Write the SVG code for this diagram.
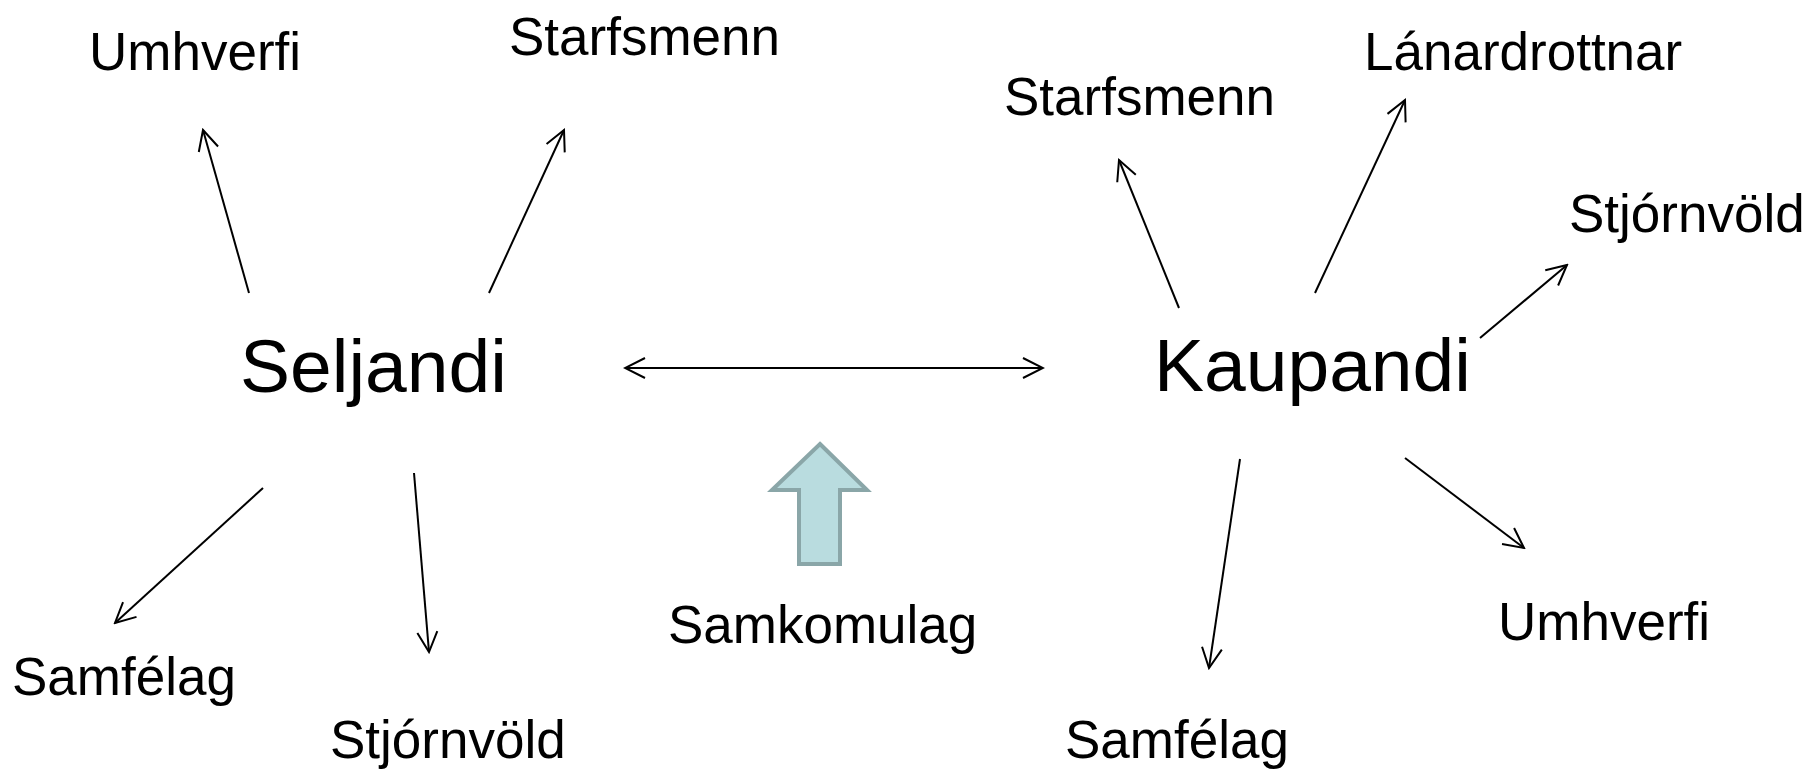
<svg xmlns="http://www.w3.org/2000/svg" width="1811" height="770" viewBox="0 0 1811 770">
<style>
text{font-family:"Liberation Sans",Arial,sans-serif;fill:#000}
.s{font-size:53px}
.b{font-size:75px}
.c{stroke:#000;stroke-width:2;fill:none}
</style>
<defs>
<marker id="ah" markerUnits="userSpaceOnUse" viewBox="-22 -12 24 24" refX="0" refY="0" markerWidth="24" markerHeight="24" orient="auto-start-reverse">
<path d="M-20,-10 L0,0 L-20,10" fill="none" stroke="#000" stroke-width="2"/>
</marker>
</defs>
<rect width="1811" height="770" fill="#fff"/>
<g id="connectors">
<line class="c" x1="249" y1="293" x2="203" y2="130" marker-end="url(#ah)"/>
<line class="c" x1="489" y1="293" x2="564" y2="130" marker-end="url(#ah)"/>
<line class="c" x1="263" y1="488" x2="115" y2="623" marker-end="url(#ah)"/>
<line class="c" x1="414" y1="473" x2="429" y2="652" marker-end="url(#ah)"/>
<line class="c" x1="625" y1="368" x2="1043" y2="368" marker-start="url(#ah)" marker-end="url(#ah)"/>
<line class="c" x1="1179" y1="308" x2="1119" y2="160" marker-end="url(#ah)"/>
<line class="c" x1="1315" y1="293" x2="1405" y2="100" marker-end="url(#ah)"/>
<line class="c" x1="1480" y1="338" x2="1567" y2="265" marker-end="url(#ah)"/>
<line class="c" x1="1240" y1="459" x2="1209" y2="668" marker-end="url(#ah)"/>
<line class="c" x1="1405" y1="458" x2="1524" y2="548" marker-end="url(#ah)"/>
</g>
<g id="block-arrow">
<path d="M820,444 L867,490 L840,490 L840,564 L799,564 L799,490 L772,490 Z" fill="#b9dcdf" stroke="#8aa6a8" stroke-width="4" stroke-linejoin="miter"/>
</g>
<g id="seljandi"><text class="b" x="240" y="392">Seljandi</text></g>
<g id="kaupandi"><text class="b" x="1154" y="391">Kaupandi</text></g>
<g id="s-umhverfi"><text class="s" x="89" y="70">Umhverfi</text></g>
<g id="s-starfsmenn"><text class="s" x="509" y="55">Starfsmenn</text></g>
<g id="s-samfelag"><text class="s" x="12" y="695">Samfélag</text></g>
<g id="s-stjornvold"><text class="s" x="330" y="758">Stjórnvöld</text></g>
<g id="samkomulag"><text class="s" x="668" y="643">Samkomulag</text></g>
<g id="k-starfsmenn"><text class="s" x="1004" y="115">Starfsmenn</text></g>
<g id="k-lanardrottnar"><text class="s" x="1364" y="70">Lánardrottnar</text></g>
<g id="k-stjornvold"><text class="s" x="1569" y="232">Stjórnvöld</text></g>
<g id="k-umhverfi"><text class="s" x="1498" y="640">Umhverfi</text></g>
<g id="k-samfelag"><text class="s" x="1065" y="758">Samfélag</text></g>
</svg>
